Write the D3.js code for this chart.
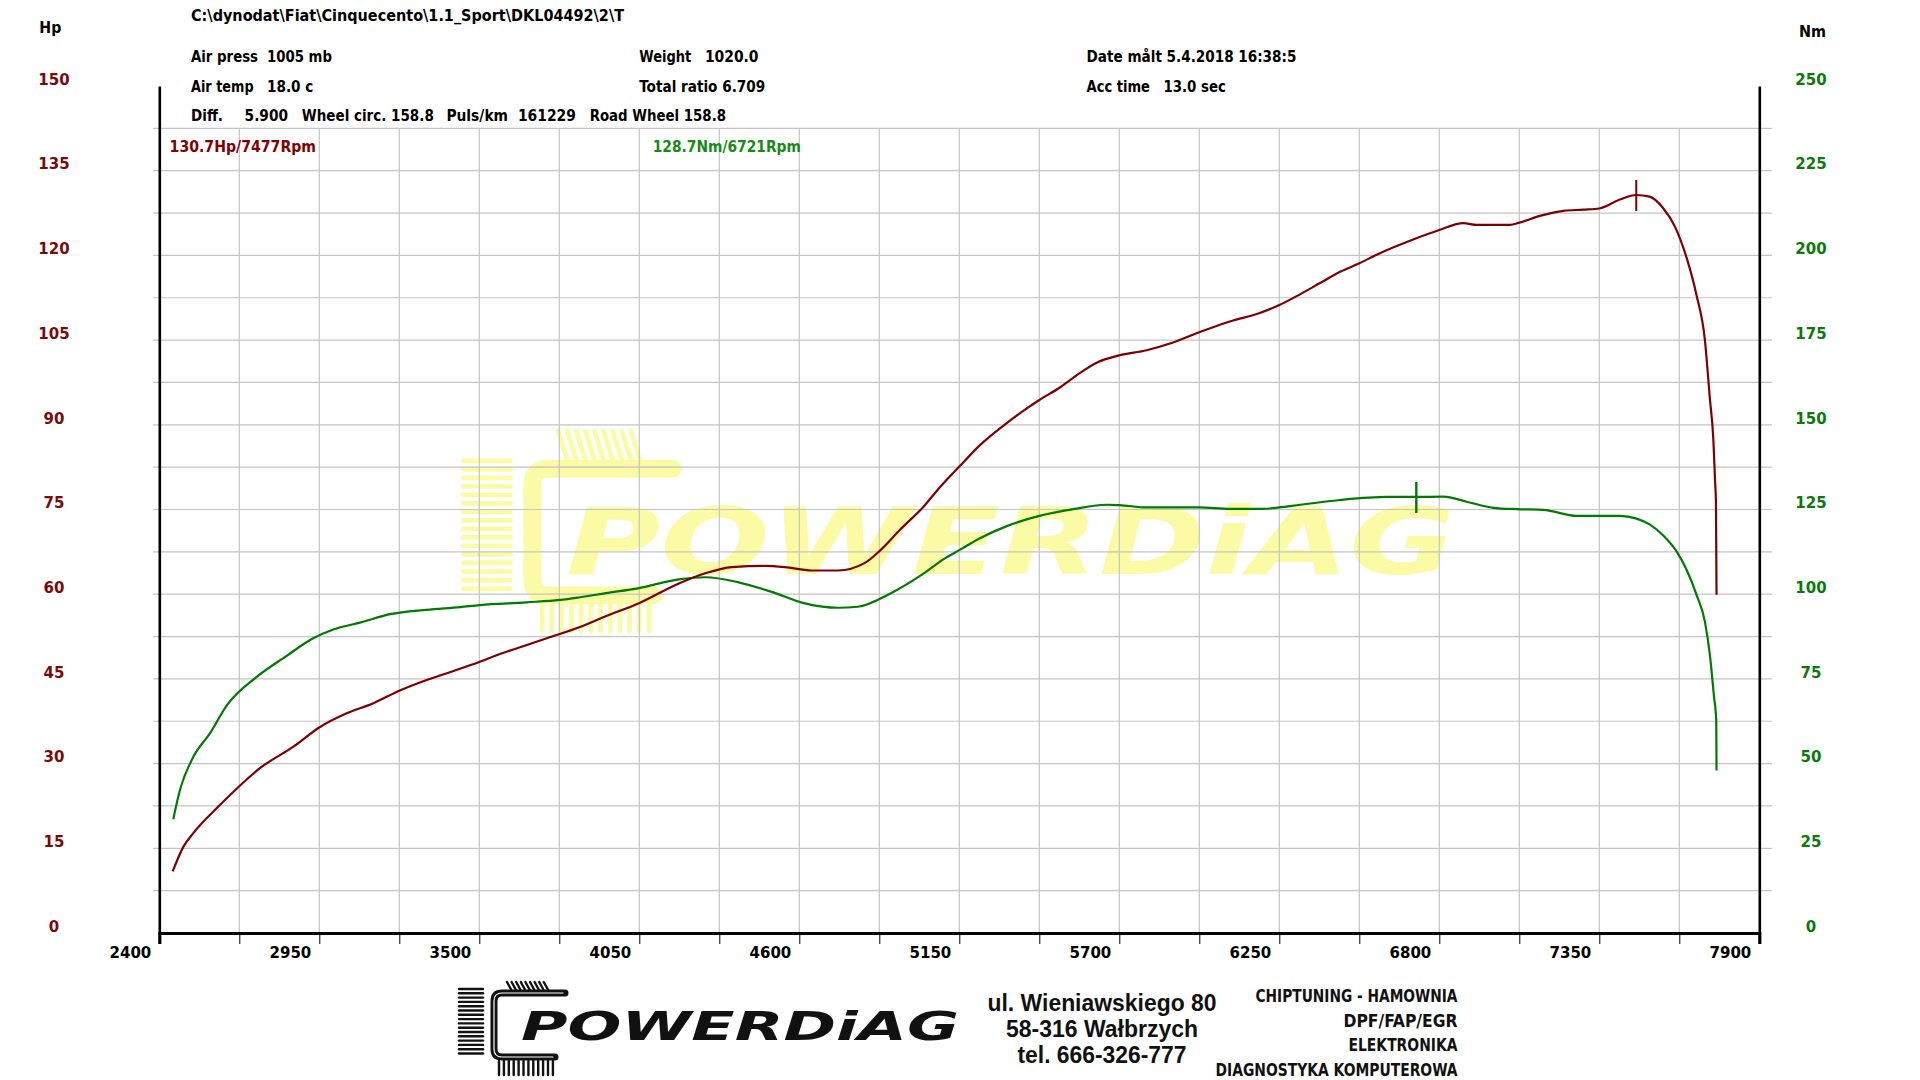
<!DOCTYPE html>
<html><head><meta charset="utf-8">
<script src="https://cdn.jsdelivr.net/npm/d3@7"></script>
<style>
html,body{margin:0;padding:0;background:#fff;}
svg{display:block;}
.hdr{font-family:"DejaVu Sans Condensed","DejaVu Sans",sans-serif;font-stretch:condensed;font-weight:bold;font-size:15.5px;fill:#000;}
.ax{font-family:"DejaVu Sans",sans-serif;font-weight:bold;font-size:15px;}
.addr{font-family:"Liberation Sans",sans-serif;font-weight:bold;font-size:23px;fill:#111;}
.svc{font-family:"DejaVu Sans Condensed","DejaVu Sans",sans-serif;font-stretch:condensed;font-weight:bold;font-size:18px;fill:#111;}
</style></head><body>
<svg id="c" width="1920" height="1080"></svg>
<script>
// ---------- data ----------
const hpRpm  = [2446,2483,2517,2609,2675,2746,2861,2950,3044,3136,3225,3319,3411,3500,3571,3640,3732,3846,3935,4049,4186,4277,4368,4482,4550,4642,4733,4824,4879,4946,5027,5084,5150,5221,5313,5382,5425,5496,5565,5622,5700,5794,5874,5975,6080,6183,6250,6321,6390,6459,6525,6596,6699,6800,6883,6929,7043,7075,7146,7227,7295,7350,7421,7477,7523,7569,7610,7650,7684,7713,7730,7742,7748,7751,7753];
const hpVals = [10.9,15.3,17.7,22.7,26.0,29.2,33.0,36.4,38.9,40.7,42.9,44.8,46.4,48.0,49.4,50.6,52.2,54.2,56.1,58.4,61.9,63.7,64.8,65.0,64.8,64.2,64.2,65.5,67.8,71.4,75.5,79.0,82.6,86.4,90.3,92.9,94.4,96.6,99.2,101.0,102.3,103.2,104.4,106.4,108.3,109.8,111.2,113.1,115.1,117.1,118.6,120.4,122.6,124.5,125.7,125.4,125.4,125.8,127.0,127.9,128.1,128.3,129.9,130.7,130.4,128.4,125.1,119.6,113.0,105.0,94.7,87.4,80.0,76.4,59.9];
const nmRpm  = [2448,2471,2517,2574,2632,2735,2838,2924,2998,3090,3193,3319,3434,3502,3663,3777,3846,3935,4049,4186,4277,4391,4505,4619,4733,4801,4915,5029,5095,5150,5221,5313,5425,5542,5657,5700,5794,5975,6080,6195,6250,6321,6459,6620,6721,6814,6894,6986,7066,7158,7272,7421,7478,7523,7569,7615,7650,7684,7713,7730,7744,7752,7753];
const nmVals = [33.6,42.2,52.0,58.9,67.2,75.6,81.8,86.8,89.6,91.6,94.1,95.4,96.2,96.8,97.6,98.3,99.1,100.3,101.8,104.4,105.0,103.5,100.7,97.3,96.0,96.3,100.3,106.2,110.3,113.0,116.5,120.1,123.1,125.1,126.4,126.3,125.6,125.6,125.2,125.2,125.6,126.4,127.8,128.7,128.7,128.8,127.3,125.5,125.1,124.9,123.1,123.1,122.3,120.6,117.4,112.7,107.2,99.9,91.9,82.2,70.0,62.7,48.0];
const rpmTicks = [2400,2950,3500,4050,4600,5150,5700,6250,6800,7350,7900];
const hpTicks  = [0,15,30,45,60,75,90,105,120,135,150];
const nmTicks  = [0,25,50,75,100,125,150,175,200,225,250];
const peakHp = [7477,130.7];
const peakNm = [6721,128.7];
const pathLine = "C:\\dynodat\\Fiat\\Cinquecento\\1.1_Sport\\DKL04492\\2\\T";
const hdrItems = [
  ["Air press",191,62,67],["1005 mb",267,62,65],
  ["Air temp",191,91.5,62.6],["18.0 c",267,91.5,46.4],
  ["Diff.",191,120.5,32],["5.900",244.6,120.5,43.4],["Wheel circ. 158.8",301.8,120.5,132],
  ["Puls/km",446.4,120.5,61.6],["161229",517.9,120.5,58],["Road Wheel 158.8",589.7,120.5,136.3],
  ["Weight",639.3,62,52],["1020.0",704.9,62,53.6],["Total ratio 6.709",639.3,91.5,126],
  ["Date målt 5.4.2018 16:38:5",1086.6,62,209.8],["Acc time",1086.6,91.5,63.4],["13.0 sec",1163.4,91.5,62.5]
];
const addrLines = ["ul. Wieniawskiego 80","58-316 Wałbrzych","tel. 666-326-777"];
const addrWidths = [229,192,169];
const svcLines = ["CHIPTUNING - HAMOWNIA","DPF/FAP/EGR","ELEKTRONIKA","DIAGNOSTYKA KOMPUTEROWA"];
const svcWidths = [202,114,109,242];

// ---------- scales ----------
const X0 = 159.3, X1 = 1759.3, Y0 = 933, Y1 = 86;
const x   = d3.scaleLinear().domain([2400,7900]).range([X0,X1]);
const yHp = d3.scaleLinear().domain([0,150]).range([Y0,Y1]);
const yNm = d3.scaleLinear().domain([0,250]).range([Y0,Y1]);
const RED = "#7d0000", GREEN = "#007a00";

const svg = d3.select("#c");

// ---------- logo ----------
function drawLogo(g, col, isMark){
  const lc = g.append("g").attr("stroke", col).attr("stroke-linecap","round").attr("fill","none");
  for(let i=0;i<16;i++) lc.append("line").attr("x1",0).attr("x2",24).attr("y1",9+i*4.3).attr("y2",9+i*4.3).attr("stroke-width",2.4);
  const tTop = isMark ? -6 : 2;
  for(let i=0;i<9;i++) lc.append("line").attr("x1",48+i*4.6).attr("x2",54+i*4.6).attr("y1",tTop).attr("y2",13).attr("stroke-width",2.4);
  for(let i=0;i<12;i++) lc.append("line").attr("x1",40+i*4.9).attr("x2",40+i*4.9).attr("y1",81).attr("y2",95).attr("stroke-width",2.4);
  lc.append("path").attr("d","M106 13 L43 13 Q35 13 35 21 L35 69 Q35 77 43 77 L96 77").attr("stroke-width",isMark?9:7);
  if(!isMark) lc.append("path").attr("d","M104 13 L43 13 Q35 13 35 21 L35 69 Q35 77 43 77 L94 77").attr("stroke","#fff").attr("stroke-width",1.2);
  g.append("text").attr("x",isMark?52:62).attr("y",isMark?66:60).text("POWERDiAG")
    .attr("font-family","DejaVu Sans, sans-serif").attr("font-weight","bold").attr("font-style","italic")
    .attr("font-size",isMark?47:39).attr("textLength",isMark?449:438).attr("lengthAdjust","spacingAndGlyphs").attr("fill",col);
}
// watermark
drawLogo(svg.append("g").attr("transform","translate(463,443) scale(1.98)"), "#fbfba6", true);

// ---------- grid ----------
const grid = svg.append("g").attr("stroke","#c4c4c4").attr("stroke-width",1.2);
grid.selectAll("line.h").data(d3.range(7.5,142.6,7.5)).join("line")
  .attr("x1",153).attr("x2",1772).attr("y1",d=>yHp(d)).attr("y2",d=>yHp(d));
grid.selectAll("line.v").data(d3.range(2675,7900,275)).join("line")
  .attr("x1",d=>x(d)).attr("x2",d=>x(d)).attr("y1",yHp(142.5)).attr("y2",Y0);

// ---------- axes ----------
const xAx = svg.append("g").attr("transform",`translate(0,${Y0})`)
  .call(d3.axisBottom(x).tickValues(d3.range(2400,7901,275)).tickSize(11).tickFormat(""));
xAx.select(".domain").attr("stroke","#000").attr("stroke-width",3.2);
xAx.selectAll(".tick line").attr("stroke","#000").attr("stroke-width",1);
svg.append("g").selectAll("text").data(rpmTicks).join("text").attr("class","ax")
  .attr("x",d=>x(d)-8).attr("y",957.5).attr("text-anchor","end").attr("fill","#000").text(d=>d);

const lAx = svg.append("g").attr("transform",`translate(${X0},0)`)
  .call(d3.axisLeft(yHp).tickValues(hpTicks).tickSize(0).tickFormat(d=>d));
lAx.select(".domain").attr("stroke","#000").attr("stroke-width",2.6);
lAx.selectAll("text").attr("class","ax").attr("x",54-X0).attr("text-anchor","middle").attr("dy","-0.12em").attr("fill","#7a0a0a").style("font-size","15px");

const rAx = svg.append("g").attr("transform",`translate(${X1},0)`)
  .call(d3.axisRight(yNm).tickValues(nmTicks).tickSize(0).tickFormat(d=>d));
rAx.select(".domain").attr("stroke","#000").attr("stroke-width",2.6);
rAx.selectAll("text").attr("class","ax").attr("x",1811-X1).attr("text-anchor","middle").attr("dy","-0.12em").attr("fill","#0a7a0a").style("font-size","15px");
svg.selectAll(".domain").attr("fill","none");

// ---------- curves ----------
const hpData = hpRpm.map((r,i)=>[r,hpVals[i]]);
const nmData = nmRpm.map((r,i)=>[r,nmVals[i]]);
svg.append("path").datum(nmData).attr("fill","none").attr("stroke",GREEN).attr("stroke-width",2.2)
  .attr("d",d3.line().x(d=>x(d[0])).y(d=>yNm(d[1])).curve(d3.curveMonotoneX));
svg.append("path").datum(hpData).attr("fill","none").attr("stroke",RED).attr("stroke-width",2.2)
  .attr("d",d3.line().x(d=>x(d[0])).y(d=>yHp(d[1])).curve(d3.curveMonotoneX));
// peak markers
svg.append("line").attr("x1",x(peakHp[0])).attr("x2",x(peakHp[0])).attr("y1",yHp(peakHp[1])-15).attr("y2",yHp(peakHp[1])+16).attr("stroke",RED).attr("stroke-width",2);
svg.append("line").attr("x1",x(peakNm[0])).attr("x2",x(peakNm[0])).attr("y1",yNm(peakNm[1])-15).attr("y2",yNm(peakNm[1])+16).attr("stroke",GREEN).attr("stroke-width",2.4);

// ---------- header texts ----------
function hdr(t,xx,yy,w,fill){
  const e = svg.append("text").attr("class","hdr").attr("x",xx).attr("y",yy).text(t);
  if(w) e.attr("textLength",w).attr("lengthAdjust","spacingAndGlyphs");
  if(fill) e.style("fill",fill);
  return e;
}
hdr(pathLine,191,20.5,433);
hdrItems.forEach(d=>hdr(d[0],d[1],d[2],d[3]));
hdr(`${peakHp[1]}Hp/${peakHp[0]}Rpm`,169.6,151.5,146.4,"#800000");
hdr(`${peakNm[1]}Nm/${peakNm[0]}Rpm`,652.7,151.5,148.2,"#178a17");
hdr("Hp",39.3,33.3,22).style("font-size","15.5px");
hdr("Nm",1799,36.7,27).style("font-size","15.5px");

// ---------- bottom ----------
drawLogo(svg.append("g").attr("transform","translate(459,980)"), "#111", false);
svg.append("g").selectAll("text").data(addrLines).join("text").attr("class","addr")
  .attr("x",1102).attr("y",(d,i)=>1011+i*26).attr("text-anchor","middle")
  .attr("textLength",(d,i)=>addrWidths[i]).attr("lengthAdjust","spacingAndGlyphs").text(d=>d);
svg.append("g").selectAll("text").data(svcLines).join("text").attr("class","svc")
  .attr("x",1457.5).attr("y",(d,i)=>1002+i*24.6).attr("text-anchor","end")
  .attr("textLength",(d,i)=>svcWidths[i]).attr("lengthAdjust","spacingAndGlyphs").text(d=>d);
</script>
</body></html>
